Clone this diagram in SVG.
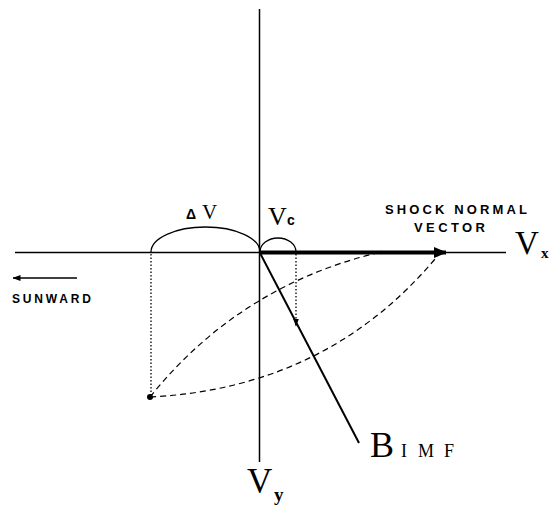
<svg xmlns="http://www.w3.org/2000/svg" width="554" height="507" viewBox="0 0 554 507">
<style>
.ln{stroke:#000;fill:none}
.ax{stroke-width:1.5}
.dash{stroke-width:1.2;stroke-dasharray:6 4}
.dot{stroke-width:1.3;stroke-dasharray:1.5 2}
.serif{font-family:"Liberation Serif","Times New Roman",serif;fill:#000}
.sans{font-family:"Liberation Sans",Arial,sans-serif;font-weight:bold;fill:#000}
</style>
<defs>
<marker id="ah" markerUnits="userSpaceOnUse" markerWidth="13" markerHeight="11" refX="12" refY="5.5" orient="auto"><path d="M0,0 L13,5.5 L0,11 z" fill="#000"/></marker>
<marker id="sh" markerUnits="userSpaceOnUse" markerWidth="8" markerHeight="6" refX="7.5" refY="3" orient="auto"><path d="M0,0 L8,3 L0,6 z" fill="#000"/></marker>
</defs>
<rect width="554" height="507" fill="#fff"/>
<g id="connectors">
<path class="ln ax" d="M15,252.5 H506"/>
<path class="ln ax" d="M259.5,9 V462"/>
<path class="ln" stroke-width="4" d="M260,252.5 H446" marker-end="url(#ah)"/>
<path class="ln" stroke-width="2" d="M260,253 L359,443"/>
<path class="ln dot" d="M151,254 V397"/>
<path class="ln dot" d="M296,254 V326" marker-end="url(#sh)"/>
<path class="ln dash" d="M150,397 Q240,285 381,252"/>
<path class="ln dash" d="M150,397 Q330,388 440,253"/>
<path class="ln" stroke-width="1.3" d="M151,252 A54.5,25 0 0 1 260,252"/>
<path class="ln" stroke-width="1.3" d="M260,252 A18,14 0 0 1 296,252"/>
<circle cx="150" cy="397" r="3" fill="#000"/>
<circle cx="381" cy="252.5" r="1.8" fill="#000"/>
<path class="ln" stroke-width="1.5" d="M77,278 H13" marker-end="url(#sh)"/>
</g>
<g id="label-deltaV">
<text class="sans" x="186" y="219" font-size="14" font-weight="normal">Δ</text>
<text class="serif" x="202" y="219" font-size="21">V</text>
</g>
<g id="label-Vc">
<text class="serif" x="268" y="225" font-size="26">V</text>
<text class="sans" x="287" y="225" font-size="14" font-weight="normal">c</text>
</g>
<g id="label-shock">
<text class="sans" x="385" y="214" font-size="13" textLength="142" lengthAdjust="spacing">SHOCK NORMAL</text>
<text class="sans" x="414" y="232" font-size="13" textLength="71" lengthAdjust="spacing">VECTOR</text>
</g>
<g id="label-Vx">
<text class="serif" x="515" y="254" font-size="33">V</text>
<text class="serif" x="541" y="258" font-size="15" font-weight="bold">x</text>
</g>
<g id="label-sunward">
<text class="sans" x="12" y="303" font-size="12" textLength="79" lengthAdjust="spacing">SUNWARD</text>
</g>
<g id="label-Vy">
<text class="serif" x="247" y="493" font-size="35">V</text>
<text class="serif" x="274" y="501" font-size="19" font-weight="bold">y</text>
</g>
<g id="label-BIMF">
<text class="serif" x="370" y="457" font-size="36">B</text>
<text class="serif" y="457" font-size="18"><tspan x="401">I</tspan><tspan x="418">M</tspan><tspan x="444">F</tspan></text>
</g>
</svg>
